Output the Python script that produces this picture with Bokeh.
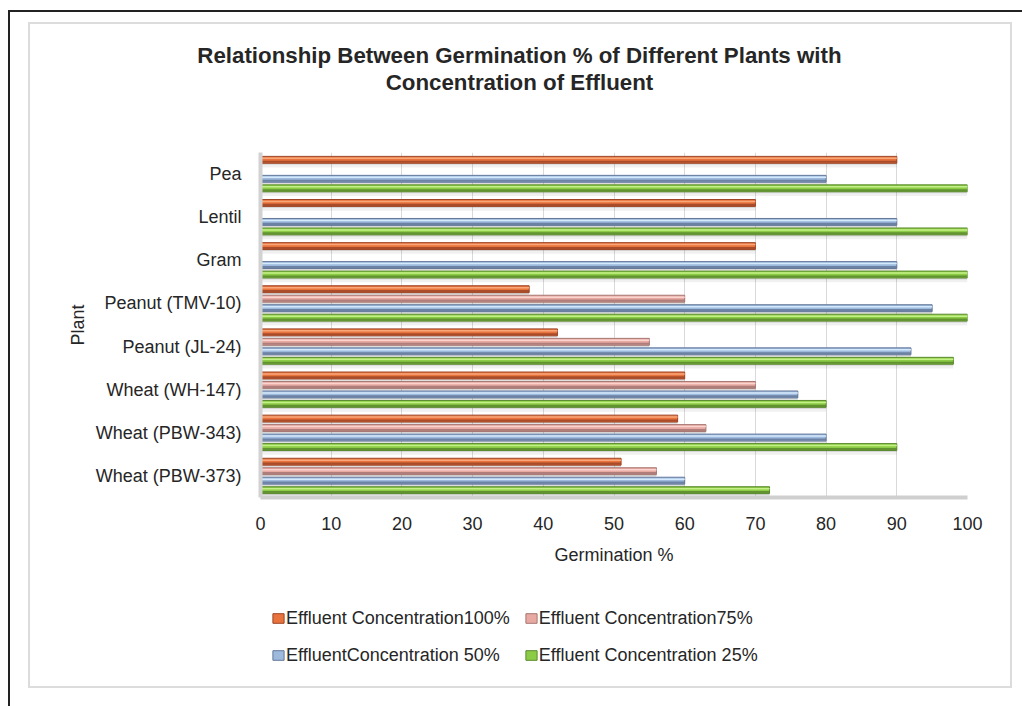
import math
from bokeh.plotting import figure
from bokeh.layouts import column
from bokeh.models import (FactorRange, Range1d, Legend, LegendItem, Title,
                          ColumnDataSource, FixedTicker)
from bokeh.transform import dodge
from bokeh.embed import file_html
from bokeh.resources import INLINE

nan = float("nan")

plants = ["Pea", "Lentil", "Gram", "Peanut (TMV-10)", "Peanut (JL-24)",
          "Wheat (WH-147)", "Wheat (PBW-343)", "Wheat (PBW-373)"]
conc_100 = [90, 70, 70, 38, 42, 60, 59, 51]
conc_75 = [nan, nan, nan, 60, 55, 70, 63, 56]
conc_50 = [80, 90, 90, 95, 92, 76, 80, 60]
conc_25 = [100, 100, 100, 100, 98, 80, 90, 72]
series_labels = ["Effluent Concentration100%", "Effluent Concentration75%",
                 "EffluentConcentration 50%", "Effluent Concentration 25%"]
x_ticks = [0, 10, 20, 30, 40, 50, 60, 70, 80, 90, 100]

title_line1 = "Relationship Between Germination % of Different Plants with"
title_line2 = "Concentration of Effluent"

FONT = "Liberation Sans"
TXT = "#262626"
FS = "18px"

source = ColumnDataSource(dict(plant=plants, c100=conc_100, c75=conc_75,
                               c50=conc_50, c25=conc_25))

MAIN_H = 575
p = figure(width=1022, height=MAIN_H, output_backend="svg", toolbar_location=None,
           y_range=FactorRange(factors=list(reversed(plants))),
           x_range=Range1d(0, 100),
           min_border_left=260, min_border_right=55,
           min_border_top=152, min_border_bottom=MAIN_H - 497,
           outline_line_color=None, background_fill_color="white",
           border_fill_color=None)

# series styling: (field, offset, mid, light, dark)
series = [
    ("c100", 0.33, "#E8733C", "#F8A77A", "#9E4526"),
    ("c75", 0.11, "#E8A9A2", "#F9D4CE", "#A67773"),
    ("c50", -0.11, "#9DB9DC", "#D4E9FB", "#64789A"),
    ("c25", -0.33, "#8CCB45", "#C4F088", "#5A8A2D"),
]

bar_h = 0.16
for field, off, mid, light, dark in series:
    p.hbar(y=dodge("plant", off - 0.07, range=p.y_range), left=0, right=field,
           height=0.22, source=source, fill_color="#000000", fill_alpha=0.06,
           line_color=None)
    p.hbar(y=dodge("plant", off - 0.045, range=p.y_range), left=0, right=field,
           height=0.14, source=source, fill_color="#000000", fill_alpha=0.10,
           line_color=None)
    p.hbar(y=dodge("plant", off, range=p.y_range), left=0, right=field,
           height=bar_h, source=source, fill_color=mid, line_color=dark,
           line_width=1)
    p.hbar(y=dodge("plant", off - 0.045, range=p.y_range), left=0, right=field,
           height=0.05, source=source, fill_color=dark, fill_alpha=0.85,
           line_color=None)
    p.hbar(y=dodge("plant", off + 0.035, range=p.y_range), left=0, right=field,
           height=0.035, source=source, fill_color=light, line_color=None)

# axes
p.xaxis.ticker = FixedTicker(ticks=x_ticks)
p.xaxis.axis_label = "Germination %"
p.yaxis.axis_label = "Plant"
for ax in (p.xaxis, p.yaxis):
    ax.major_tick_line_color = None
    ax.minor_tick_line_color = None
    ax.major_label_text_font = FONT
    ax.major_label_text_color = TXT
    ax.axis_label_text_font = FONT
    ax.axis_label_text_color = TXT
    ax.axis_label_text_font_style = "normal"
    ax.axis_label_text_font_size = FS
    ax.major_label_text_font_size = FS

p.xaxis.axis_line_color = "#CFCFCF"
p.xaxis.axis_line_width = 4
p.yaxis.axis_line_color = "#D2D2D2"
p.yaxis.axis_line_width = 4
p.xaxis.major_label_standoff = 13
p.xaxis.axis_label_standoff = 12
p.yaxis.major_label_standoff = 13
p.yaxis.axis_label_standoff = 5

p.xgrid.grid_line_color = "#D9D9D9"
p.xgrid.grid_line_width = 1
p.ygrid.grid_line_color = None

# title: line 1 outermost, then line 2, then an empty spacer next to the plot
TFS = 22.3
def tw(em):
    return em * TFS
p.title.text = title_line1
p.title.text_font = FONT
p.title.text_font_size = f"{TFS}px"
p.title.text_font_style = "bold"
p.title.text_color = TXT
p.title.align = "left"
p.title.offset = 519 - tw(28.894) / 2 - 260
p.title.standoff = 0
p.add_layout(Title(text=" ", text_font_size="10px", standoff=45), "above")
p.add_layout(Title(text=title_line2, text_font=FONT, text_font_size=f"{TFS}px",
                   text_font_style="bold", text_color=TXT, align="left",
                   offset=519 - tw(12.0) / 2 - 260, standoff=0), "above")

# legend strip below the chart (separate figure, no axes)
LEG_H = 706 - MAIN_H
pl = figure(width=1022, height=LEG_H, output_backend="svg", toolbar_location=None,
            x_axis_type=None, y_axis_type=None, min_border=0,
            x_range=Range1d(0, 1), y_range=Range1d(0, 1),
            outline_line_color=None, background_fill_color=None,
            border_fill_color=None)
placeholder = ColumnDataSource(dict(y=[nan], right=[nan]))
leg_renderers = []
for field, off, mid, light, dark in series:
    leg_renderers.append(pl.hbar(y="y", left=0, right="right", height=0.1,
                                 source=placeholder, fill_color=mid,
                                 line_color=dark, line_width=1))

LH, SP = 23, 14
legend = Legend(items=[LegendItem(label=lab, renderers=[r])
                       for lab, r in zip(series_labels, leg_renderers)],
                orientation="horizontal", ncols=2,
                location=(11, LEG_H - (618 - MAIN_H) - LH / 2 - LH - SP),
                glyph_width=14, glyph_height=12, label_standoff=1, spacing=SP,
                padding=0, margin=0, border_line_color=None,
                background_fill_alpha=0, label_text_font=FONT,
                label_text_font_size=FS, label_text_color=TXT,
                label_height=LH)
pl.add_layout(legend, "center")

layout = column(p, pl, spacing=0)

# decorative frames around the chart drawn as the page background
lines = [  # (x, y, w, h, color)
    (8, 10, 2, 700, "#222222"),
    (8, 10, 1020, 2, "#222222"),
    (28, 22, 2, 666, "#DCDCDC"),
    (1010, 22, 2, 666, "#DCDCDC"),
    (28, 22, 984, 2, "#DCDCDC"),
    (28, 686, 984, 2, "#DCDCDC"),
]
layout.styles = {
    "background-color": "white",
    "background-image": ", ".join(f"linear-gradient({c},{c})" for *_, c in lines),
    "background-position": ", ".join(f"{x}px {y}px" for x, y, *_ in lines),
    "background-size": ", ".join(f"{w}px {h}px" for _, _, w, h, _ in lines),
    "background-repeat": "no-repeat",
}

open("out.html", "w").write(file_html(layout, INLINE))
